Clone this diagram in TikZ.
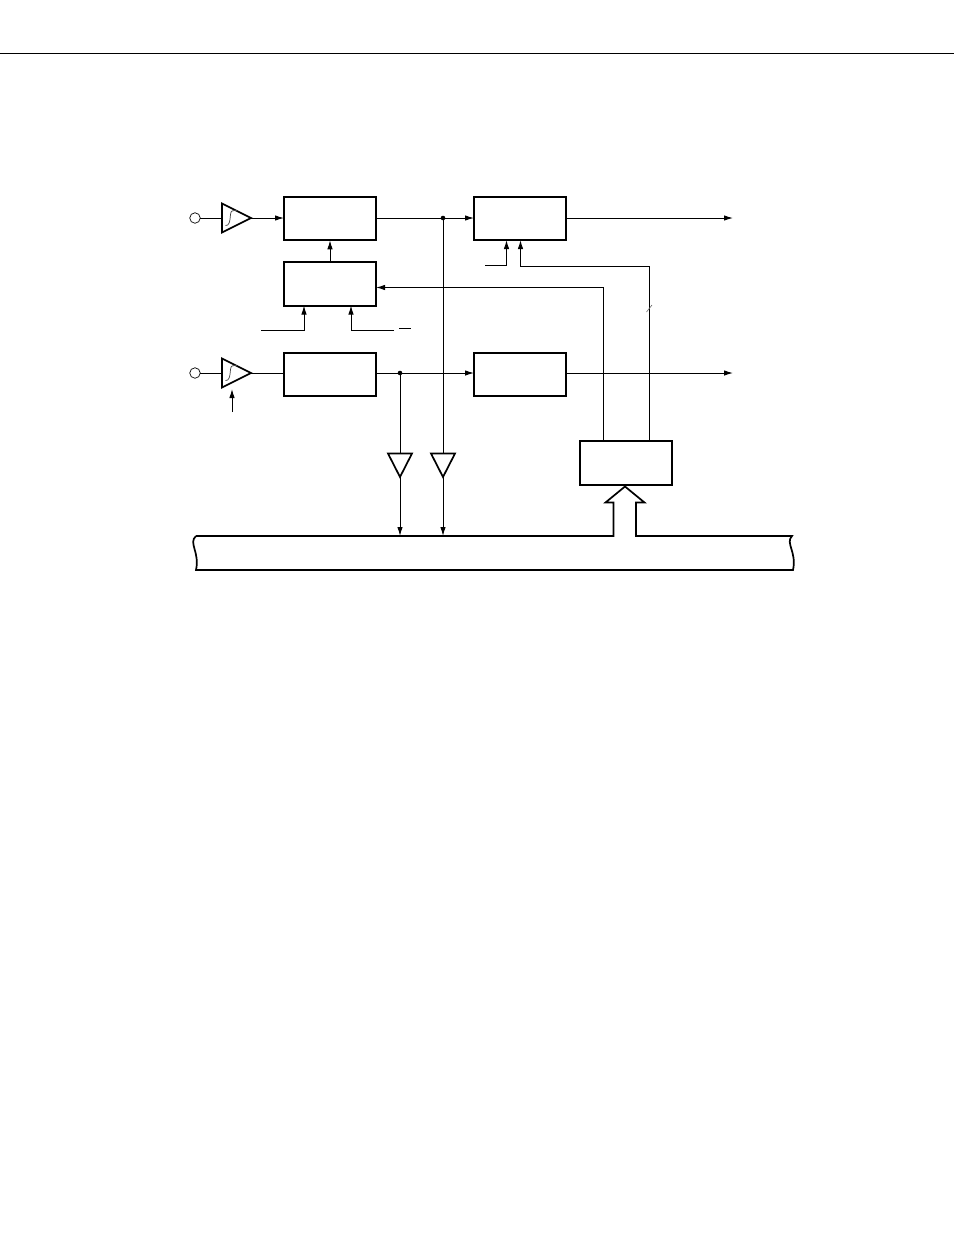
\documentclass[tikz,border=0pt]{standalone}
\usetikzlibrary{arrows.meta}
\tikzset{
  blockbox/.style={draw,line width=1.8pt,minimum width=92pt,minimum height=43.5pt,inner sep=0pt,outer sep=0pt},
  terminal/.style={draw,circle,line width=0.7pt,minimum size=10.5pt,inner sep=0pt,outer sep=0pt},
  wire/.style={line width=1pt},
  flow/.style={wire,-{Latex[length=9pt,width=5.5pt]},shorten >=0pt},
  heavy/.style={line width=1.7pt},
  junction/.style={circle,fill,minimum size=4.6pt,inner sep=0pt,outer sep=0pt},
}
\begin{document}
\begin{tikzpicture}[x=1pt,y=-1pt]
\useasboundingbox (0,0) rectangle (954,1235);
% page rule
\coordinate (ruleL) at (0,53.5);
\coordinate (ruleR) at (954,53.5);
\draw[line width=0.8pt] (ruleL) -- (ruleR);
% blocks
\node[blockbox] (A) at (330,218.5) {};
\node[blockbox] (B) at (330,284) {};
\node[blockbox] (C) at (330,374.5) {};
\node[blockbox] (D) at (520,218.5) {};
\node[blockbox] (E) at (520,374.5) {};
\node[blockbox] (F) at (626,463) {};
% terminals
\node[terminal] (T1) at (195,218) {};
\node[terminal] (T2) at (195,373) {};
% input buffers
\coordinate (I1a) at (222,203.5); \coordinate (I1b) at (222,232.5); \coordinate (I1o) at (251,218);
\coordinate (I1i) at (222,218);
\coordinate (I2a) at (222,358.5); \coordinate (I2b) at (222,387.5); \coordinate (I2o) at (251,373);
\coordinate (I2i) at (222,373);
\draw[heavy,line join=miter] (I1a) -- (I1o) -- (I1b) -- cycle;
\draw[heavy,line join=miter] (I2a) -- (I2o) -- (I2b) -- cycle;
\draw[line width=0.7pt,black!75] (225.5,225.5) .. controls (232,226) and (229,212) .. (232,211) .. controls (233,210.5) and (235,210.5) .. (237,210.5);
\draw[line width=0.7pt,black!75] (225.5,380.5) .. controls (232,381) and (229,367) .. (232,366) .. controls (233,365.5) and (235,365.5) .. (237,365.5);
% output buffers
\coordinate (P1t) at (400,453.5); \coordinate (P1a) at (388,453.5); \coordinate (P1b) at (412,453.5); \coordinate (P1o) at (400,477);
\coordinate (P2t) at (443,453.5); \coordinate (P2a) at (431,453.5); \coordinate (P2b) at (455,453.5); \coordinate (P2o) at (443,477);
\draw[heavy,line join=miter] (P1a) -- (P1b) -- (P1o) -- cycle;
\draw[heavy,line join=miter] (P2a) -- (P2b) -- (P2o) -- cycle;
% junctions
\node[junction] (J1) at (443,218) {};
\node[junction] (J2) at (400,373) {};
% bus
\coordinate (BusL) at (196,536); \coordinate (BusR) at (792,536);
\coordinate (BusJ1) at (400,536); \coordinate (BusJ2) at (443,536);
\draw[heavy,line join=miter] (BusL) -- (613.5,536) -- (613.5,502.5) -- (605.5,502.5) -- (625,486.5) -- (644.5,502.5) -- (636,502.5) -- (636,536) -- (BusR)
  .. controls (785,543) and (797,552) .. (793,570) -- (196,570)
  .. controls (200,552) and (188,543) .. (BusL);
% wires
\draw[wire] (T1) -- (I1i);
\draw[wire] (T2) -- (I2i);
\draw[flow] (I1o) -- (A.west |- I1o);
\draw[wire] (I2o) -- (C.west |- I2o);
\draw[flow] (B.north) -- (A.south);
\draw[flow] (A.east |- J1) -- (D.west |- J1);
\draw[flow] (C.east |- J2) -- (E.west |- J2);
\coordinate (DoutEnd) at (733,218);
\coordinate (EoutEnd) at (733,373);
\draw[flow] (D.east |- DoutEnd) -- (DoutEnd);
\draw[flow] (E.east |- EoutEnd) -- (EoutEnd);
\draw[wire] (J1) -- (P2t);
\draw[wire] (J2) -- (P1t);
\draw[flow] (P1o) -- (BusJ1);
\draw[flow] (P2o) -- (BusJ2);
% control inputs
\coordinate (c1) at (232,412); \coordinate (c1e) at (232,389);
\draw[flow] (c1) -- (c1e);
\coordinate (b1s) at (261,330.5); \coordinate (b1e) at (304,305.5);
\draw[flow] (b1s) -| (b1e);
\coordinate (b2s) at (394,330.5); \coordinate (b2e) at (351,305.5);
\draw[flow] (b2s) -| (b2e);
\coordinate (ovL) at (399,328); \coordinate (ovR) at (411,328);
\draw[wire] (ovL) -- (ovR);
\coordinate (d1s) at (485,265.5); \coordinate (d1e) at (506.5,240);
\draw[flow] (d1s) -| (d1e);
% feedback from F
\coordinate (fL) at (603.5,441.5); \coordinate (fR) at (649.5,441.5);
\coordinate (d2e) at (520.5,240);
\coordinate (d2c) at (649.5,266.5);
\draw[flow] (fR) -- (d2c) -| (d2e);
\coordinate (fLc) at (603.5,287.5);
\draw[flow] (fL) -- (fLc) -- (B.east |- fLc);
% slash on the bus line
\coordinate (s1) at (646.5,312); \coordinate (s2) at (652,305);
\draw[line width=0.6pt,black!60] (s1) -- (s2);
\end{tikzpicture}
\end{document}
